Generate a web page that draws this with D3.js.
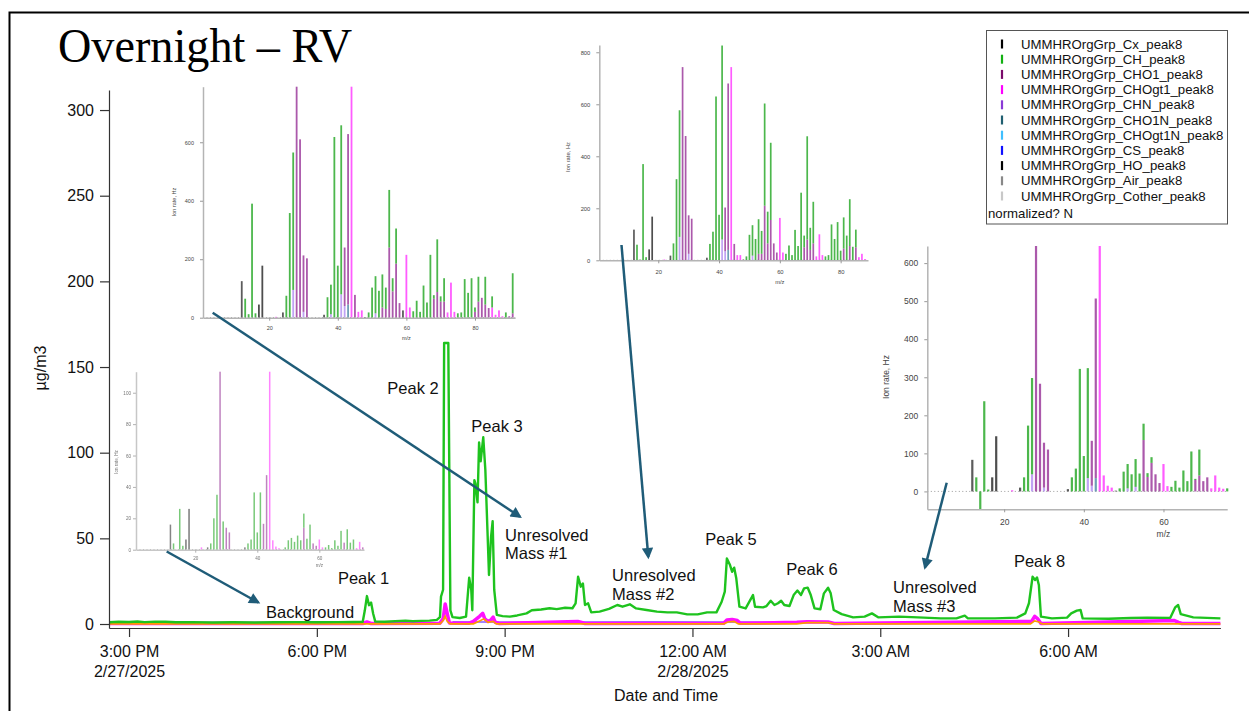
<!DOCTYPE html>
<html>
<head>
<meta charset="utf-8">
<script src="https://cdn.jsdelivr.net/npm/d3@7"></script>
<style>
  body { margin: 0; background: #fff; }
  text { font-family: Arial, "Liberation Sans", sans-serif; }
</style>
</head>
<body>
<div id="chart"></div>
<script>
// ---------- legend ----------
var families = ["Cx", "CH", "CHO1", "CHOgt1", "CHN", "CHO1N", "CHOgt1N", "CS", "HO", "Air", "Cother"];
var famColors = ["#000000", "#12b012", "#7a0a6a", "#ff00ff", "#8a3ad6", "#1f5f70", "#3fbfff", "#1010ff", "#000000", "#888888", "#c8c8c8"];

// ---------- main time series (minutes after 3:00 PM 2/27/2025, ug/m3) ----------
var chMin = [-19, -10, 0, 8, 15, 25, 35, 45, 60, 80, 100, 120, 140, 160, 180, 200, 215, 224, 226, 228, 230, 232, 234, 236,
  245, 255, 265, 272, 280, 288, 295, 298, 299, 301, 302, 306, 308, 310, 317, 323, 326, 328, 329, 331, 332, 334, 335.5, 337,
  339.5, 341.5, 343.5, 345, 347, 348.5, 350, 352.5, 358, 365, 372, 381, 386, 395, 403, 410, 418, 425, 428, 430.4, 433, 435,
  437, 440, 443, 451, 460, 468, 473, 480, 486, 496, 506, 516, 525, 535, 545, 554, 563, 568, 571, 573, 576, 578, 580, 582,
  585, 591, 598, 600, 607.6, 611, 615, 618.6, 622, 625, 628, 633, 637, 640.6, 644, 647, 650.5, 653.4, 657, 662.6, 666, 670,
  672.5, 675.4, 683, 694, 705, 712, 718, 738, 756, 778, 793, 801, 804, 830, 851, 859, 862.5, 866, 868.4, 870.2, 872, 874,
  884.5, 899, 903, 908.4, 912, 914, 939, 960, 976, 998, 1002.6, 1005.5, 1008, 1020, 1046];
var chVal = [1.0, 1.3, 1.2, 1.5, 1.1, 1.4, 1.3, 1.0, 1.1, 0.9, 1.0, 0.9, 1.0, 1.1, 1.0, 1.1, 1.2, 1.3, 8, 16.3, 11, 12.5, 6, 1.4,
  1.3, 1.6, 1.9, 1.6, 1.8, 2.0, 2.4, 4, 16, 20, 164, 164, 8, 4, 3.5, 4.3, 27, 20, 8, 84, 82, 71, 106, 95,
  109, 90, 55, 28.6, 51, 60, 20, 5.3, 4.6, 4.3, 5.0, 6.2, 8, 8.5, 9.2, 8.7, 9.5, 9.2, 12, 27.6, 21.8, 23.7,
  11.1, 12.1, 6.8, 7.2, 8.8, 11.1, 10.1, 11.5, 9.1, 8.2, 7.2, 6.8, 6.8, 5.6, 5.6, 6.8, 6.8, 13, 18.9, 38.3, 34.4, 30.5, 32.9, 26.7,
  10.1, 9.1, 16.9, 10.1, 9.7, 10.5, 13.6, 11.1, 12.1, 13.6, 11.1, 10.5, 16.9, 19.5, 16.9, 20.8, 21.2, 16.9, 9.1, 8.6, 17.9, 21.2,
  17.9, 8.2, 5.8, 3.9, 4.3, 6.2, 3.9, 4.3, 3.9, 3.3, 3.3, 4.9, 3.3, 3.3, 3.7, 6.2, 12.1, 27.6, 25.7, 27.2, 22.8, 4.3,
  3.3, 3.7, 6.2, 7.8, 8.2, 3.3, 3.1, 3.5, 3.7, 3.6, 9.7, 11.1, 5.8, 3.9, 3.3];

var chogt1Min = [-19, 224, 228, 232, 298, 301, 303, 305, 307, 326, 330, 333, 336, 339, 341, 344, 347, 349, 351, 355,
  430, 433, 437, 570, 573, 578, 583, 586, 640, 650, 670, 676, 865, 868, 871, 874, 1002, 1006, 1009, 1046];
var chogt1Val = [0.3, 0.3, 1.2, 0.3, 0.5, 3, 11.7, 6, 0.6, 0.5, 1.5, 3, 4.5, 6.2, 3, 1.5, 2.5, 4, 1, 0.3,
  1.5, 1, 0.3, 0.4, 2.3, 2.6, 2, 0.4, 1.0, 1.3, 1.2, 0.3, 1.5, 4.5, 3, 0.3, 2, 1, 0.3, 0.3];

var orgMin = [-19, 298, 301, 303, 305, 308, 330, 336, 340, 344, 349, 352, 570, 574, 580, 584, 640, 650, 670, 676, 864, 868, 872, 875, 1046];
var orgVal = [0.1, 0.1, 2, 4.5, 1.5, 0.1, 0.1, 1.8, 3, 1, 1.5, 0.1, 0.1, 1.2, 1.5, 0.1, 0.1, 0.8, 0.8, 0.1, 0.1, 1.8, 1.2, 0.1, 0.1];

var chnMin = [310, 400, 500, 640];
var chnVal = [1.2, 1.1, 1.2, 1.1];

// ---------- spectra insets: [m/z, family, stacked Ion rate Hz] ----------
var specA = [[12,"Cx",125],[13,"CH",65],[14,"CH",12],[15,"CH",390],[16,"CH",15],[17,"HO",45],[18,"HO",178],
  [22,"CHOgt1",3],[24,"Cx",18],[25,"CH",75],[26,"CH",358],[27,"CHN",95],[27,"CH",470],
  [28,"CHO1",800],[29,"CHO1",610],[30,"CHN",20],[30,"CHO1",193],[31,"CHO1",203],
  [36,"Cx",10],[37,"CH",70],[38,"CHN",12],[38,"CH",101],[39,"CH",618],[40,"CH",178],[41,"CHN",80],[41,"CH",578],
  [42,"CHN",40],[42,"CHO1",200],[43,"CHO1N",45],[43,"CHO1",583],[44,"CHOgt1",800],[45,"CHO1",78],[46,"CHOgt1",20],[47,"CHOgt1",25],[48,"Cx",2],
  [49,"CH",18],[50,"CH",103],[51,"CHN",15],[51,"CH",127],[52,"CH",92],[53,"CHO1",35],[53,"CH",113],[54,"CHO1",30],[54,"CH",73],
  [55,"CHO1",240],[55,"CH",197],[56,"CHO1",90],[56,"CH",45],[57,"CHO1",185],[57,"CH",120],[58,"CHO1",50],[59,"Cx",25],
  [60,"CHOgt1",215],[61,"CHOgt1",35],[62,"CH",22],[63,"CH",58],[64,"CH",20],[65,"CH",110],[66,"CH",52],[67,"CH",215],
  [68,"CHO1",65],[68,"CH",12],[69,"CHO1",88],[69,"CH",180],[70,"CHO1",55],[70,"CH",18],[71,"CHO1",55],[71,"CH",80],
  [72,"CHOgt1",18],[73,"CHOgt1",120],[74,"CHOgt1",20],[75,"CH",15],[76,"CH",18],[77,"CH",132],[78,"CH",85],[79,"CH",135],
  [80,"CHO1",20],[80,"CH",15],[81,"CHO1",55],[81,"CH",85],[82,"CHO1",68],[83,"CHO1",45],[83,"CH",95],[84,"CHO1",33],
  [85,"CHOgt1",35],[85,"CH",38],[86,"CHOgt1",10],[87,"CHOgt1",25],[88,"CHOgt1",5],[89,"CH",18],[90,"CHO1",5],[91,"CHO1",15],[91,"CH",137]];

var specB = [[12,"Cx",118],[13,"CH",60],[14,"CH",3],[15,"CH",370],[16,"CH",12],[17,"HO",42],[18,"HO",168],
  [22,"CHOgt1",3],[24,"Cx",18],[25,"CH",65],[26,"CH",312],[27,"CHN",90],[27,"CH",487],[28,"CHO1",743],[29,"CHO1",478],
  [30,"CHN",25],[30,"CHO1",148],[31,"CHO1",160],[36,"Cx",10],[37,"CH",63],[38,"CH",110],[39,"CH",630],[40,"CH",175],
  [41,"CHN",80],[41,"CH",746],[42,"CHN",35],[42,"CHO1",168],[43,"CHO1N",40],[43,"CHO1",640],[44,"CHOgt1",743],[45,"CHO1",63],
  [46,"CHOgt1",20],[47,"CHOgt1",20],[48,"Cx",3],[49,"CH",15],[50,"CH",98],[51,"CHN",18],[51,"CH",117],[52,"CH",82],
  [53,"CHO1",25],[53,"CH",133],[54,"CHO1",25],[54,"CH",88],[55,"CHO1",210],[55,"CH",393],[56,"CHO1",65],[56,"CH",122],
  [57,"CHO1",155],[57,"CH",297],[58,"CHO1",65],[59,"CHO1",30],[60,"CHOgt1",163],[61,"CHOgt1",30],[62,"CH",25],[63,"CH",57],
  [64,"CH",20],[65,"CH",117],[66,"CH",55],[67,"CH",260],[68,"CHO1",50],[68,"CH",45],[69,"CHO1",80],[69,"CH",397],
  [70,"CHO1",40],[70,"CH",85],[71,"CHO1",65],[71,"CH",160],[72,"CHOgt1",15],[73,"CHOgt1",100],[74,"CHOgt1",20],[75,"CH",15],
  [76,"CH",20],[77,"CH",138],[78,"CH",82],[79,"CH",147],[80,"CH",37],[81,"CHO1",45],[81,"CH",120],[82,"CH",95],
  [83,"CHO1",55],[83,"CH",180],[84,"CH",52],[85,"CHO1",50],[85,"CH",68],[86,"CHOgt1",12],[87,"CHOgt1",25],[88,"CHOgt1",5]];

var specC = [[12,"Cx",83],[13,"CH",37],[14,"CH",-47],[15,"CH",237],[16,"CH",5],[17,"HO",37],[18,"HO",145],[22,"CHOgt1",3],
  [24,"Cx",10],[25,"CH",37],[26,"CH",173],[27,"CHN",45],[27,"CH",253],[28,"CHO1",660],[29,"CHO1",283],[30,"CHN",10],[30,"CHO1",118],
  [31,"CHO1",110],[36,"Cx",6],[37,"CH",37],[38,"CH",60],[39,"CH",322],[40,"CH",93],[41,"CHN",35],[41,"CH",289],
  [42,"CHN",15],[42,"CHO1",118],[43,"CHO1N",35],[43,"CHO1",472],[44,"CHOgt1",660],[45,"CHOgt1",42],[46,"CHOgt1",15],[47,"CHOgt1",10],
  [48,"Cx",2],[49,"CH",8],[50,"CH",52],[51,"CHN",8],[51,"CH",64],[52,"CH",45],[53,"CHN",12],[53,"CH",73],[54,"CH",47],
  [55,"CHO1",135],[55,"CH",43],[56,"CHO1",38],[56,"CH",10],[57,"CHO1",75],[57,"CH",15],[58,"CHO1",45],[59,"CHO1",22],
  [60,"CHOgt1",72],[61,"CHOgt1",14],[62,"CH",12],[63,"CH",28],[64,"CH",10],[65,"CH",55],[66,"CH",27],[67,"CH",105],
  [68,"CHO1",30],[68,"CH",3],[69,"CHO1",42],[69,"CH",68],[70,"CHO1",27],[71,"CHO1",37],[72,"CHOgt1",8],[73,"CHOgt1",42],
  [74,"CHOgt1",10],[75,"CHOgt1",7],[76,"CH",8]];

var specD = [[12,"Cx",16],[13,"CH",4],[15,"CH",26],[16,"CH",2.5],[17,"HO",6.5],[18,"HO",26],[22,"CHOgt1",1.5],[24,"Cx",1.5],
  [25,"CH",4],[26,"CH",20],[27,"CH",35],[28,"CHO1",115],[29,"CH",18],[30,"CHO1",14],[31,"CHO1",11],[36,"Cx",1.5],
  [37,"CH",4],[38,"CH",6.5],[39,"CH",36.5],[40,"CH",11],[41,"CH",36.5],[42,"CHO1",16.5],[43,"CHO1",47.5],[44,"CHOgt1",115],
  [45,"CHOgt1",6],[46,"CHOgt1",2],[47,"CHOgt1",1],[49,"CH",1.5],[50,"CH",6],[51,"CH",7.5],[52,"CH",5],[53,"CH",9],[54,"CH",6],
  [55,"CHO1",14],[55,"CH",9],[56,"CH",7],[57,"CH",16],[58,"CHO1",4],[59,"CHO1",2.5],[60,"CHOgt1",6.5],[61,"CHOgt1",1.5],
  [62,"CH",1.5],[63,"CH",3],[64,"CH",1],[65,"CH",6],[66,"CH",2.5],[67,"CH",12],[68,"CHO1",4.5],[69,"CH",13],[70,"CH",4.5],
  [71,"CH",6.5],[72,"CHOgt1",1],[73,"CHOgt1",5],[74,"CHO1",1.5]];

// ---------- annotations (minutes, ug/m3) ----------
var notes = [
  {lines: ["Peak 1"], m: 224.8, v: 26.9, anchor: "middle"},
  {lines: ["Background"], m: 173.5, v: 7.0, anchor: "middle"},
  {lines: ["Peak 2"], m: 272.2, v: 137.8, anchor: "middle"},
  {lines: ["Peak 3"], m: 352.7, v: 115.6, anchor: "middle"},
  {lines: ["Unresolved", "Mass #1"], m: 360.4, v: 52.0, anchor: "start"},
  {lines: ["Unresolved", "Mass #2"], m: 463.0, v: 28.6, anchor: "start"},
  {lines: ["Peak 5"], m: 577.0, v: 49.6, anchor: "middle"},
  {lines: ["Peak 6"], m: 654.6, v: 32.1, anchor: "middle"},
  {lines: ["Unresolved", "Mass #3"], m: 732.3, v: 21.6, anchor: "start"},
  {lines: ["Peak 8"], m: 872.7, v: 36.8, anchor: "middle"}
];

var svg_w = 1249, svg_h = 711;

var svg = d3.select("#chart")
      .append("svg")
      .attr("width", svg_w)
      .attr("height", svg_h)
      .style("background", "#fff");

// slide frame
svg.append("rect")
  .attr("x", 9.5).attr("y", 12.5)
  .attr("width", 1300).attr("height", 720)
  .attr("fill", "none")
  .attr("stroke", "#000")
  .attr("stroke-width", 2);

svg.append("text")
  .attr("x", 58).attr("y", 62)
  .attr("textLength", 294)
  .attr("lengthAdjust", "spacingAndGlyphs")
  .style("font-family", "'Liberation Serif', 'DejaVu Serif', serif")
  .style("font-size", "49px")
  .style("fill", "#000")
  .text("Overnight \u2013 RV");

// ---------- main scales ----------
var t0 = new Date(2025, 1, 27, 15, 0);
function toDate(m) { return new Date(t0.getTime() + m * 60000); }

var xScale = d3.scaleTime()
      .domain([toDate(-19.2), toDate(1046)])
      .range([109, 1220.4]);

var yScale = d3.scaleLinear()
      .domain([-2.33, 311.7])
      .range([628, 90]);

var line = d3.line()
      .x(function(d) { return xScale(toDate(d[0])); })
      .y(function(d) { return yScale(d[1]); });

function pairs(ms, vs) { return ms.map(function(m, i) { return [m, vs[i]]; }); }

svg.append("path")
  .datum(pairs(chnMin, chnVal))
  .attr("d", line)
  .style("fill", "none").style("stroke", "#6a3cff").style("stroke-width", 1.3);

svg.append("path")
  .datum(pairs(chogt1Min, chogt1Val))
  .attr("d", line)
  .style("fill", "none").style("stroke", "#ff10ff").style("stroke-width", 3.5)
  .style("stroke-linejoin", "round");

svg.append("path")
  .datum(pairs(orgMin, orgVal))
  .attr("d", line)
  .style("fill", "none").style("stroke", "#ff9a00").style("stroke-width", 1.6);

svg.append("path")
  .datum(pairs(chMin, chVal))
  .attr("d", line)
  .style("fill", "none").style("stroke", "#1ec31e").style("stroke-width", 2.4)
  .style("stroke-linejoin", "round");

// ---------- main axes ----------
var fmtTime = d3.timeFormat("%-I:%M %p");
var fmtDay = d3.timeFormat("%-m/%-d/%Y");
var xTicks = xScale.ticks(d3.timeHour.every(3));

var xAxis = d3.axisBottom(xScale)
      .tickValues(xTicks)
      .tickFormat("")
      .tickSize(9)
      .tickSizeOuter(0);

var gx = svg.append("g")
  .attr("transform", "translate(0,628)")
  .call(xAxis);
gx.selectAll("path, line").style("stroke", "#333").style("stroke-width", 1.2);

var xLab = gx.selectAll(".tick").append("text")
  .attr("y", 29)
  .attr("text-anchor", "middle")
  .style("fill", "#111")
  .style("font-size", "16px");
xLab.append("tspan").attr("x", 0).text(function(d) { return fmtTime(d); });
xLab.append("tspan").attr("x", 0).attr("dy", 20)
  .text(function(d) { return (d.getHours() === 15 || d.getHours() === 0) ? fmtDay(d) : ""; });

var yAxis = d3.axisLeft(yScale)
      .tickValues([0, 50, 100, 150, 200, 250, 300])
      .tickSize(9)
      .tickPadding(6)
      .tickSizeOuter(0);

var gy = svg.append("g")
  .attr("transform", "translate(109,0)")
  .call(yAxis);
gy.selectAll("path, line").style("stroke", "#333").style("stroke-width", 1.2);
gy.selectAll("text").style("font-size", "16px").style("fill", "#111");

svg.append("text")
  .attr("transform", "translate(46,368) rotate(-90)")
  .attr("text-anchor", "middle")
  .style("font-size", "16px")
  .style("fill", "#111")
  .text("\u00b5g/m3");

svg.append("text")
  .attr("x", 666).attr("y", 701)
  .attr("text-anchor", "middle")
  .style("font-size", "16px")
  .style("fill", "#111")
  .text("Date and Time");

// ---------- annotations ----------
notes.forEach(function(n) {
  var t = svg.append("text")
    .attr("x", xScale(toDate(n.m)))
    .attr("y", yScale(n.v) + 6)
    .attr("text-anchor", n.anchor)
    .style("font-size", "16.5px")
    .style("fill", "#111");
  n.lines.forEach(function(s, i) {
    t.append("tspan").attr("x", xScale(toDate(n.m))).attr("dy", i === 0 ? 0 : 18.5).text(s);
  });
});

// ---------- spectra insets ----------
var barColor = {Cx: "#333333", CH: "#1fa51f", CHO1: "#962f96", CHOgt1: "#ff33ff", CHN: "#b08cf0",
                CHO1N: "#4a86a4", CHOgt1N: "#3fbfff", CS: "#1010ff", HO: "#222222", Air: "#999999", Cother: "#cccccc"};

function drawSpectrum(cfg) {
  var x = d3.scaleLinear().domain(cfg.xDom).range(cfg.xPx);
  var y = d3.scaleLinear().domain(cfg.yDom).range(cfg.yPx).clamp(true);
  var g = svg.append("g").style("opacity", cfg.fade);

  // dotted zero line
  g.append("line")
    .attr("x1", cfg.xPx[0]).attr("x2", cfg.xPx[1])
    .attr("y1", y(0)).attr("y2", y(0))
    .style("stroke", "#999")
    .style("stroke-dasharray", "1,2.5");

  // stacked bars
  var base = {};
  var segs = cfg.spec.map(function(d) {
    if (d[2] < 0) return {mz: d[0], fam: d[1], y0: 0, y1: d[2]};
    var b = base[d[0]] || 0;
    base[d[0]] = b + d[2];
    return {mz: d[0], fam: d[1], y0: b, y1: b + d[2]};
  });

  g.selectAll("rect.bar")
    .data(segs)
    .enter()
    .append("rect")
    .attr("class", "bar")
    .attr("x", function(d) { return x(d.mz) - cfg.bw / 2; })
    .attr("y", function(d) { return y(Math.max(d.y0, d.y1)); })
    .attr("width", cfg.bw)
    .attr("height", function(d) { return Math.abs(y(d.y0) - y(d.y1)); })
    .style("fill", function(d) { return barColor[d.fam]; })
    .style("opacity", 0.8);

  var ax = g.append("g")
    .attr("transform", "translate(0," + cfg.yPx[0] + ")")
    .call(d3.axisBottom(x).tickValues(cfg.xTicks).tickSize(3).tickPadding(cfg.xPad).tickSizeOuter(0));
  var ay = g.append("g")
    .attr("transform", "translate(" + cfg.xPx[0] + ",0)")
    .call(d3.axisLeft(y).tickValues(cfg.yTicks).tickSize(3).tickPadding(cfg.yPad).tickSizeOuter(0));

  g.selectAll(".domain").style("stroke", "#b4b4b4").style("stroke-width", 1.5);
  g.selectAll(".tick line").style("stroke", "#999");
  g.selectAll(".tick text").style("font-size", cfg.font + "px").style("fill", "#444");

  g.append("text")
    .attr("x", x(60)).attr("y", cfg.mzY)
    .attr("text-anchor", "middle")
    .style("font-size", cfg.font + "px")
    .style("fill", "#444")
    .text("m/z");

  g.append("text")
    .attr("transform", "translate(" + cfg.labX + "," + cfg.labY + ") rotate(-90)")
    .attr("text-anchor", "middle")
    .style("font-size", cfg.font + "px")
    .style("fill", "#444")
    .text("Ion rate, Hz");
}

drawSpectrum({spec: specA, xDom: [0.7, 91.7], xPx: [203, 515.1], yDom: [0, 790], yPx: [317.7, 86.7],
  xTicks: [20, 40, 60, 80], yTicks: [0, 200, 400, 600], font: 5.5, bw: 1.8, xPad: 5, yPad: 6,
  mzY: 340, labX: 176, labY: 202, fade: 1});

drawSpectrum({spec: specB, xDom: [0.6, 89], xPx: [599.3, 868], yDom: [0, 828], yPx: [260.3, 45],
  xTicks: [20, 40, 60, 80], yTicks: [0, 200, 400, 600, 800], font: 5.8, bw: 1.7, xPad: 7, yPad: 6,
  mzY: 284, labX: 570, labY: 157, fade: 1});

drawSpectrum({spec: specC, xDom: [0.7, 76], xPx: [927.3, 1227.2], yDom: [-47, 645], yPx: [509.3, 246],
  xTicks: [20, 40, 60], yTicks: [0, 100, 200, 300, 400, 500, 600], font: 8.5, bw: 2.2, xPad: 7, yPad: 6,
  mzY: 537, labX: 889, labY: 377, fade: 1});

drawSpectrum({spec: specD, xDom: [0.9, 74.4], xPx: [136, 364], yDom: [0, 113.4], yPx: [549.7, 371.7],
  xTicks: [20, 40, 60], yTicks: [0, 20, 40, 60, 80, 100], font: 4.6, bw: 1.5, xPad: 4, yPad: 2,
  mzY: 567, labX: 118, labY: 462, fade: 0.75});

// ---------- arrows ----------
svg.append("defs").append("marker")
  .attr("id", "head")
  .attr("viewBox", "0 0 10 10")
  .attr("refX", 8).attr("refY", 5)
  .attr("markerWidth", 5).attr("markerHeight", 4.5)
  .attr("markerUnits", "strokeWidth")
  .attr("orient", "auto")
  .append("path")
  .attr("d", "M0,0 L10,5 L0,10 z")
  .style("fill", "#1f5c78");

var arrows = [[212.7, 312.7, 520, 516.7], [621.5, 245, 648.3, 557], [946.7, 482.7, 925, 567.5], [166.7, 551.5, 258.3, 602.5]];
svg.selectAll("line.arrow")
  .data(arrows)
  .enter()
  .append("line")
  .attr("class", "arrow")
  .attr("x1", function(d) { return d[0]; })
  .attr("y1", function(d) { return d[1]; })
  .attr("x2", function(d) { return d[2]; })
  .attr("y2", function(d) { return d[3]; })
  .style("stroke", "#1f5c78")
  .style("stroke-width", 2.5)
  .attr("marker-end", "url(#head)");

// ---------- legend ----------
var lg = svg.append("g");
lg.append("rect")
  .attr("x", 986.5).attr("y", 30.5)
  .attr("width", 241).attr("height", 193.5)
  .style("fill", "#fff")
  .style("stroke", "#555");

var items = lg.selectAll("g.item")
  .data(families)
  .enter()
  .append("g")
  .attr("class", "item")
  .attr("transform", function(d, i) { return "translate(0," + (44 + i * 15.2) + ")"; });

items.append("line")
  .attr("x1", 1002).attr("x2", 1002)
  .attr("y1", -4.5).attr("y2", 4.5)
  .style("stroke", function(d, i) { return famColors[i]; })
  .style("stroke-width", 2.2);

items.append("text")
  .attr("x", 1021).attr("y", 4.6)
  .style("font-size", "13.2px")
  .style("fill", "#111")
  .text(function(d) { return "UMMHROrgGrp_" + d + "_peak8"; });

lg.append("text")
  .attr("x", 988).attr("y", 217.5)
  .style("font-size", "13.2px")
  .style("fill", "#111")
  .text("normalized? N");
</script>
</body>
</html>
